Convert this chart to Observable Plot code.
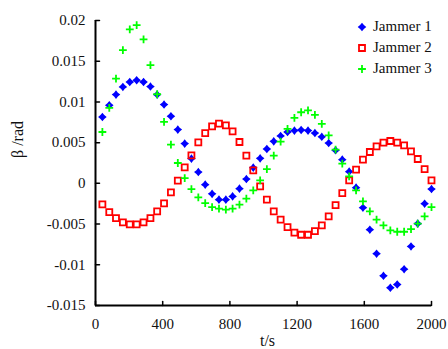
<!DOCTYPE html>
<html><head><meta charset="utf-8">
<script src="https://cdn.jsdelivr.net/npm/d3@7"></script>
<script src="https://cdn.jsdelivr.net/npm/@observablehq/plot@0.6"></script>
<style>
body{margin:0;background:#fff;}
#wrap{position:relative;width:448px;height:349px;font-family:"Liberation Serif","Times New Roman",Times,"DejaVu Serif",serif;}
#wrap svg, #wrap svg text{font-family:"Liberation Serif","Times New Roman",Times,"DejaVu Serif",serif !important;}
#legend{position:absolute;left:356px;top:16px;font-size:15px;color:#111;line-height:21px;}
#legend div{display:flex;align-items:center;height:21px;}
#legend svg{width:12px;height:12px;margin-right:5px;}
</style></head>
<body><div id="wrap"><div id="legend"></div></div>
<script>
const seriesNames = ["Jammer 1", "Jammer 2", "Jammer 3"];
const timeS = [41,82,122,163,204,245,286,327,367,408,449,490,531,571,612,653,694,735,776,816,857,898,939,980,1020,1061,1102,1143,1184,1224,1265,1306,1347,1388,1429,1469,1510,1551,1592,1633,1673,1714,1755,1796,1837,1878,1918,1959,2000];
const jammer1 = [0.00815,0.00959,0.01090,0.01184,0.01245,0.01266,0.01245,0.01189,0.01090,0.00968,
  0.00824,0.00660,0.00488,0.00304,0.00139,-0.00016,-0.00129,-0.00200,-0.00200,-0.00160,
  -0.00065,0.00053,0.00193,0.00307,0.00422,0.00516,0.00582,0.00631,0.00648,0.00655,
  0.00648,0.00618,0.00572,0.00495,0.00406,0.00291,0.00144,-0.00053,-0.00299,-0.00569,
  -0.00864,-0.01135,-0.01282,-0.01242,-0.01054,-0.00775,-0.00495,-0.00250,-0.00070];
const jammer2 = [-0.00258,-0.00353,-0.00427,-0.00479,-0.00504,-0.00504,-0.00479,-0.00427,-0.00344,-0.00246,
  -0.00111,0.00033,0.00197,0.00344,0.00504,0.00618,0.00701,0.00734,0.00713,0.00639,
  0.00508,0.00341,0.00160,-0.00037,-0.00200,-0.00344,-0.00446,-0.00537,-0.00606,-0.00631,
  -0.00631,-0.00586,-0.00516,-0.00406,-0.00267,-0.00119,0.00037,0.00168,0.00291,0.00385,
  0.00455,0.00500,0.00520,0.00500,0.00467,0.00393,0.00299,0.00176,0.00037];
const jammer3 = [0.00631,0.00926,0.01287,0.01635,0.01890,0.01942,0.01767,0.01451,0.01094,0.00754,
  0.00476,0.00250,0.00065,-0.00070,-0.00172,-0.00242,-0.00291,-0.00311,-0.00323,-0.00311,
  -0.00262,-0.00188,-0.00086,0.00037,0.00176,0.00341,0.00513,0.00668,0.00803,0.00873,
  0.00897,0.00842,0.00731,0.00590,0.00414,0.00242,0.00086,-0.00086,-0.00221,-0.00344,
  -0.00446,-0.00516,-0.00578,-0.00594,-0.00594,-0.00562,-0.00495,-0.00406,-0.00291];
const xTicks = [0,400,800,1200,1600,2000];
const yTicks = [-0.015,-0.01,-0.005,0,0.005,0.01,0.015,0.02];
const xLabel = "t/s";
const yLabel = "β /rad";

const colors = ["#0000ff", "#ff0000", "#00ff00"];
const font = '"Liberation Serif","Times New Roman",Times,"DejaVu Serif",serif';

const diamondSym = {draw(c){const h=4.3,a=1.9;c.moveTo(0,-h);c.lineTo(a,-a);c.lineTo(h,0);c.lineTo(a,a);c.lineTo(0,h);c.lineTo(-a,a);c.lineTo(-h,0);c.lineTo(-a,-a);c.closePath();}};
const squareSym = {draw(c){const s=3;c.moveTo(-s,-s);c.lineTo(s,-s);c.lineTo(s,s);c.lineTo(-s,s);c.closePath();}};
const plusSym = {draw(c){const s=3.9;c.moveTo(-s,0);c.lineTo(s,0);c.moveTo(0,-s);c.lineTo(0,s);}};
const tickShape = {draw(c,l){c.moveTo(0,0);c.lineTo(0,-l);}};

const mk = (arr) => timeS.map((t,i)=>({t, v: arr[i]}));
const d1 = mk(jammer1), d2 = mk(jammer2), d3s = mk(jammer3);
const fmt = d => String(+d.toFixed(3));

const chart = Plot.plot({
  width: 448, height: 349,
  marginLeft: 95, marginRight: 17, marginTop: 20, marginBottom: 44,
  style: {fontFamily: font, fontSize: "15px", color: "#111", background: "white", overflow: "visible"},
  x: {domain: [0, 2000]},
  y: {domain: [-0.015, 0.02]},
  marks: [
    Plot.axisX({ticks: xTicks, tickSize: 0, tickPadding: 13, tickFormat: fmt, label: null, fontSize: 15, fontFamily: font}),
    Plot.axisY({ticks: yTicks, tickSize: 0, tickPadding: 10, tickFormat: fmt, label: null, fontSize: 15, fontFamily: font}),
    Plot.vector(xTicks, {x: d => d, y: -0.015, length: 4, rotate: 0, anchor: "start", shape: tickShape, stroke: "black", strokeWidth: 1.5}),
    Plot.vector(yTicks, {x: 0, y: d => d, length: 4, rotate: 90, anchor: "start", shape: tickShape, stroke: "black", strokeWidth: 1.5}),
    Plot.ruleX([0], {stroke: "black", strokeWidth: 2}),
    Plot.ruleY([-0.015], {stroke: "black", strokeWidth: 2}),
    Plot.dot(d1, {x: "t", y: "v", symbol: diamondSym, fill: colors[0], stroke: "none", r: 4}),
    Plot.dot(d2, {x: "t", y: "v", symbol: squareSym, fill: "none", stroke: colors[1], strokeWidth: 1.8, r: 4}),
    Plot.dot(d3s, {x: "t", y: "v", symbol: plusSym, fill: "none", stroke: colors[2], strokeWidth: 1.8, r: 4}),
    Plot.text([xLabel], {frameAnchor: "bottom", dy: 35, dx: 4, fontSize: 16, fontFamily: font, lineAnchor: "middle"}),
    Plot.text([yLabel], {frameAnchor: "left", dx: -78, dy: -5, rotate: -90, fontSize: 16, fontFamily: font, lineAnchor: "middle"})
  ]
});
const wrap = document.getElementById("wrap");
wrap.insertBefore(chart, wrap.firstChild);

function pathOf(sym){
  let s = "";
  const ctx = {
    moveTo(x,y){ s += `M${x},${y}`; },
    lineTo(x,y){ s += `L${x},${y}`; },
    closePath(){ s += "Z"; }
  };
  sym.draw(ctx, 0);
  return s;
}
const syms = [diamondSym, squareSym, plusSym];
const legend = document.getElementById("legend");
seriesNames.forEach((name, i) => {
  const row = document.createElement("div");
  const style = i === 0 ? `fill="${colors[0]}"` : `fill="none" stroke="${colors[i]}" stroke-width="1.8"`;
  row.innerHTML = `<svg viewBox="-6 -6 12 12"><path d="${pathOf(syms[i])}" ${style}/></svg><span>${name}</span>`;
  legend.appendChild(row);
});
</script>
</body></html>
